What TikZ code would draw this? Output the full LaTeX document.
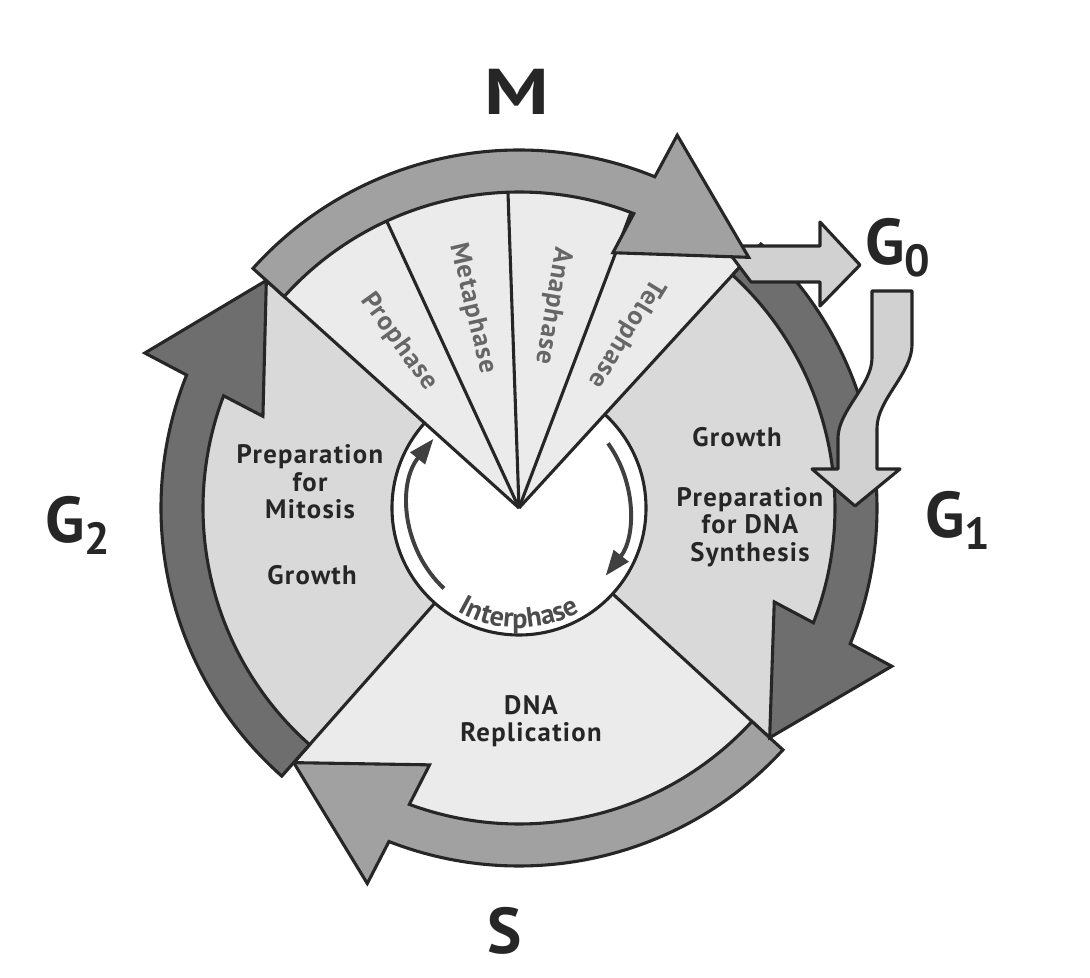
\documentclass[tikz,border=0pt]{standalone}
\usepackage{fontspec}
\setmainfont{PT Sans}
\usetikzlibrary{arrows.meta, decorations.text}
\colorlet{ink}{black!85}
\colorlet{secLight}{black!8}
\colorlet{secDark}{black!15}
\colorlet{bandMid}{black!37}
\colorlet{bandDark}{black!57}
\colorlet{restGray}{black!18}
\def\rIn{316}
\def\rOut{358}
\def\rTip{340}
\def\rSec{340}
\def\rRing{127}
\newcommand{\subfont}{\fontsize{32}{32}\selectfont}
\newcommand{\ringfont}{\fontsize{20}{20}\selectfont\bfseries}
\newcommand{\phasesector}[3]{%
  \fill[#3] (0,0) -- (#1:\rSec) arc[start angle=#1, end angle=#2, radius=\rSec] -- cycle;}
\newcommand{\phasearrow}[3]{%
  \draw[band, fill=#3]
    (#1:\rOut) arc[start angle=#1, end angle={#2+20.2}, radius=\rOut]
    -- ({#2+19.5}:405) -- (#2:\rTip) -- ({#2+22.3}:272)
    -- ({#2+21.2}:\rIn) arc[start angle={#2+21.2}, end angle=#1, radius=\rIn]
    -- cycle;}

\begin{document}
\begin{tikzpicture}[
  x=0.025cm, y=0.025cm,
  outl/.style={draw=ink, line width=2.2pt, line join=round},
  band/.style={outl, line join=miter},
  phase/.style={font=\fontsize{46}{46}\selectfont\bfseries, text=ink, inner sep=0pt},
  body/.style={font=\fontsize{19}{19.5}\selectfont\bfseries\addfontfeature{LetterSpace=5},
               text=ink, align=center},
  stagelbl/.style={font=\fontsize{19}{19}\selectfont\bfseries\addfontfeature{LetterSpace=4},
                   text=black!60, inner sep=1pt},
  iarrow/.style={draw=black!75, line width=2.8pt, -{Triangle[length=18pt, width=13pt]}},
]
\fill[white] (-519,-470) rectangle (571,508);

% ── sectors ──────────────────────────────────────────────────────────────────
\phasesector{47.5}{-42.5}{secDark}
\phasesector{-42.5}{-131.5}{secLight}
\phasesector{228.5}{138}{secDark}
\draw[outl, fill=white] (0,0) circle[radius=\rRing];
\phasesector{138}{47.5}{secLight}

\foreach \a/\r in {138/\rTip, 114.75/\rIn, 92/\rIn, 69.25/\rIn, 47.5/\rTip}{
  \draw[outl] (0,0) -- (\a:\r);
}
\foreach \a in {-42.5, 228.5}{ \draw[outl] (\a:\rRing) -- (\a:\rTip); }

% mitosis stages, read towards the centre
\foreach \a/\t/\n in {125.9/Prophase/pro, 103.1/Metaphase/meta,
                      80.6/Anaphase/ana, 58.4/Telophase/telo}{
  \node[stagelbl, rotate=\a-180] (\n) at (\a:205) {\t};
}

% ── interphase ring ──────────────────────────────────────────────────────────
\draw[iarrow] (227:110) arc[start angle=227, end angle=141, radius=110];
\draw[iarrow] (36:110) arc[start angle=36, end angle=-38, radius=110];
\path[decorate, decoration={text along path, text align=center, text color=black!70,
      text={|\ringfont|Interphase}}]
  (-145:120) arc[start angle=-145, end angle=-35, radius=120];

% ── phase arrows ─────────────────────────────────────────────────────────────
\phasearrow{-42.5}{-131.5}{bandMid}
\phasearrow{228.5}{138}{bandDark}
\phasearrow{47.5}{-42.5}{bandDark}

% G0 exit and return
\draw[outl, fill=restGray] (232,226) -- (301,226) -- (301,202) -- (341,243)
  -- (301,286) -- (301,262) -- (205,262) -- cycle;
\draw[outl, fill=restGray] (353,217) -- (353,150)
  to[out=-90, in=90, looseness=0.8] (319,70) -- (319,39) -- (293,39) -- (336,2)
  -- (381,39) -- (358,39) -- (358,80)
  to[out=90, in=-90, looseness=0.8] (393,163) -- (393,217) -- cycle;

\phasearrow{138}{47.5}{bandMid}

% ── labels ───────────────────────────────────────────────────────────────────
\node[phase, anchor=base] (mLbl) at (-2,393) {\scalebox{1.25}[1]{M}};
\node[phase, anchor=base west] (gZeroLbl) at (346,243) {G\raisebox{-8pt}{\subfont 0}};
\node[phase, anchor=base west] (gOneLbl) at (406,-30) {G\raisebox{-8pt}{\subfont 1}};
\node[phase, anchor=base west] (gTwoLbl) at (-474,-35) {G\raisebox{-8pt}{\subfont 2}};
\node[phase, anchor=base] (sLbl) at (-14,-445) {S};

\node[body] (prepMitosis) at (-209,26) {Preparation\\for\\Mitosis};
\node[body] (growthLeft) at (-207,-67) {Growth};
\node[body] (growthRight) at (218,71) {Growth};
\node[body] (prepDNA) at (231,-19) {Preparation\\for DNA\\Synthesis};
\node[body] (dnaRep) at (12,-213) {DNA\\Replication};

\end{tikzpicture}
\end{document}
